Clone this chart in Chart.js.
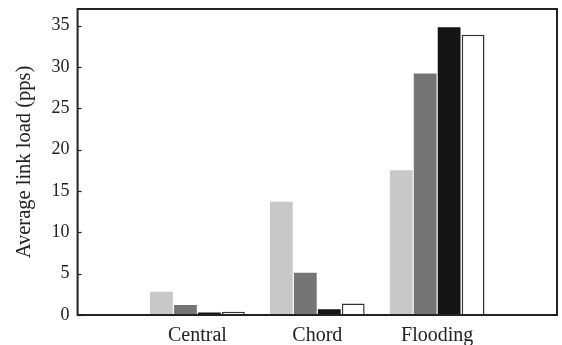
<!DOCTYPE html>
<html>
<head>
<meta charset="utf-8">
<script src="https://cdn.jsdelivr.net/npm/chart.js@4/dist/chart.umd.min.js"></script>
<style>
  html, body { margin: 0; padding: 0; background: #fff; }
  #wrap { width: 562px; height: 345px; }
</style>
</head>
<body>
<div id="wrap"><canvas id="loadChart"></canvas></div>
<script>
// categories (empty slots at both ends keep the groups where the figure has them)
var categories = ['', 'Central', 'Chord', 'Flooding', ''];

// average link load per scheme, four series per group
var seriesA = [null, 2.8, 13.7, 17.5, null];
var seriesB = [null, 1.2, 5.1, 29.2, null];
var seriesC = [null, 0.3, 0.7, 34.8, null];
var seriesD = [null, 0.4, 1.4, 33.9, null];

var yTicks = [0, 5, 10, 15, 20, 25, 30, 35];

var serif = 'Liberation Serif, "Times New Roman", serif';
var ink = '#222';

// frame round the plot plus the short inward ticks on the y axis
var framePlugin = {
    id: 'frame',
    afterDraw: function (chart) {
        var ctx = chart.ctx;
        var a = chart.chartArea;
        var y = chart.scales.y;
        ctx.save();
        ctx.strokeStyle = ink;
        ctx.lineWidth = 2;
        ctx.strokeRect(a.left, a.top, a.right - a.left, a.bottom - a.top);
        ctx.lineWidth = 1.2;
        yTicks.forEach(function (v) {
            var py = Math.round(y.getPixelForValue(v)) + 0.5;
            ctx.beginPath();
            ctx.moveTo(a.left, py);
            ctx.lineTo(a.left + 4, py);
            ctx.stroke();
        });
        ctx.restore();
    }
};

var chartOne = document.getElementById('loadChart').getContext('2d');
var myChart = new Chart(chartOne, {
    type: 'bar',
    data: {
        labels: categories,
        datasets: [
            { label: 'A', data: seriesA, backgroundColor: '#c8c8c8', borderWidth: 0 },
            { label: 'B', data: seriesB, backgroundColor: '#757575', borderWidth: 0 },
            { label: 'C', data: seriesC, backgroundColor: '#141514', borderWidth: 0 },
            { label: 'D', data: seriesD, backgroundColor: '#ffffff', borderColor: '#333', borderWidth: 1.5 }
        ]
    },
    options: {
        responsive: true,
        maintainAspectRatio: false,
        animation: false,
        events: [],
        layout: { padding: { top: 9, right: 5, left: 12, bottom: 0 } },
        datasets: { bar: { categoryPercentage: 0.8, barPercentage: 0.95 } },
        plugins: {
            legend: { display: false },
            tooltip: { enabled: false }
        },
        scales: {
            x: {
                offset: false,
                grid: { display: false, drawTicks: false },
                border: { display: false },
                afterFit: function (scale) {
                    scale.height = 30;
                    scale.paddingLeft = 0;
                    scale.paddingRight = 0;
                },
                ticks: {
                    color: ink,
                    font: { family: serif, size: 20 },
                    padding: 9,
                    maxRotation: 0,
                    autoSkip: false
                }
            },
            y: {
                min: 0,
                max: 37,
                grid: { display: false, drawTicks: false },
                border: { display: false },
                afterBuildTicks: function (scale) {
                    scale.ticks = yTicks.map(function (v) { return { value: v }; });
                },
                afterFit: function (scale) {
                    scale.paddingTop = 0;
                    scale.paddingBottom = 0;
                },
                ticks: {
                    color: ink,
                    font: { family: serif, size: 18 },
                    padding: 8
                },
                title: {
                    display: true,
                    text: 'Average link load (pps)',
                    color: ink,
                    font: { family: serif, size: 20.5 },
                    padding: { top: 0, bottom: 7 }
                }
            }
        }
    },
    plugins: [framePlugin]
});
</script>
</body>
</html>
